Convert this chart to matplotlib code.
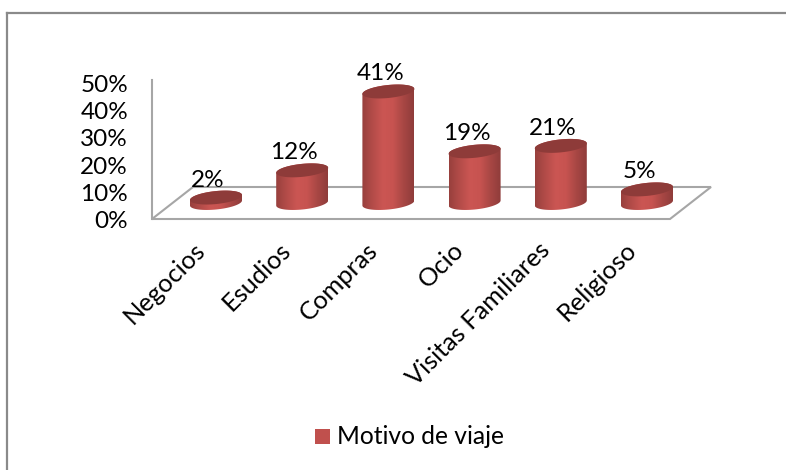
import matplotlib
matplotlib.use("Agg")
import matplotlib.pyplot as plt
import numpy as np
from matplotlib.colors import LinearSegmentedColormap
from matplotlib.patches import PathPatch, Polygon, Rectangle
from matplotlib.path import Path

categories = ["Negocios", "Esudios", "Compras", "Ocio", "Visitas Familiares", "Religioso"]
values = [2, 12, 41, 19, 21, 5]
y_ticks = [0, 10, 20, 30, 40, 50]
series_name = "Motivo de viaje"

plt.rcParams["font.family"] = ["Lato", "DejaVu Sans"]

GREY = "#a6a6a6"
FRAME = "#8a8a8a"
TOP = "#8e3b39"
PX_PER_PCT = 2.72
FIRST_X, STEP_X, BASE_Y = 216, 86.2, 203
RX, RY, SKEW = 26, 6.5, 2.5

body_cmap = LinearSegmentedColormap.from_list(
    "body", ["#98403d", "#b34c49", "#cb5653", "#c75350", "#a84744", "#8f3c3a"]
)

fig = plt.figure(figsize=(7.86, 4.7), dpi=100)
ax = fig.add_axes([0, 0, 1, 1])
ax.set_xlim(0, 786)
ax.set_ylim(470, 0)
ax.axis("off")

# Outer frame, only left and top show
ax.plot([7, 7], [470, 13], color=FRAME, lw=1.6)
ax.plot([7, 786], [13, 13], color=FRAME, lw=1.6)

# Floor and back wall
ax.add_patch(Polygon([(152, 219), (193, 187), (711, 187), (670, 219)],
                     closed=True, fc="white", ec=GREY, lw=1.5))
ax.plot([152, 152], [80, 219], color=GREY, lw=1.5)

# Axis labels
for tick in y_ticks:
    ax.text(128, 222 - tick * 2.74, f"{tick}%", ha="right", va="center", fontsize=17.5)

t = np.linspace(0, 2 * np.pi, 81)
grad = np.linspace(0, 1, 128).reshape(1, -1)

# Cylinders
for i, (name, v) in enumerate(zip(categories, values)):
    cx = FIRST_X + i * STEP_X
    top_y = BASE_Y - v * PX_PER_PCT

    # body: front half of the base ellipse swept up to the top ellipse
    half = t[:41]
    low_x = cx + RX * np.cos(half)
    low_y = BASE_Y + RY * np.sin(half) - SKEW * np.cos(half)
    up_x = cx + RX * np.cos(half[::-1])
    up_y = top_y - RY * np.sin(half[::-1]) - SKEW * np.cos(half[::-1])
    verts = np.column_stack([np.r_[low_x, up_x], np.r_[low_y, up_y]])
    clip = PathPatch(Path(np.vstack([verts, verts[0]])), transform=ax.transData,
                     fc="none", ec="none")
    ax.add_patch(clip)
    im = ax.imshow(grad, cmap=body_cmap, aspect="auto", zorder=3,
                   extent=(cx - RX, cx + RX, BASE_Y + 12, top_y - 12))
    im.set_clip_path(clip)

    # top face
    ax.fill(cx + RX * np.cos(t), top_y + RY * np.sin(t) - SKEW * np.cos(t),
            color=TOP, lw=0, zorder=4)

    ax.text(cx - 8, top_y - 7, f"{v}%", ha="center", va="bottom", fontsize=17.5, zorder=5)

    ax.text(cx - 23, 238, name, rotation=45, rotation_mode="anchor", ha="right", va="top",
            fontsize=18.3)

ax.set_xlim(0, 786)
ax.set_ylim(470, 0)

# Legend
ax.add_patch(Rectangle((315, 429), 15, 15, fc="#c0504d", ec="none"))
ax.text(337, 437, series_name, ha="left", va="center", fontsize=17.7)

fig.savefig("out.png", dpi=100)
